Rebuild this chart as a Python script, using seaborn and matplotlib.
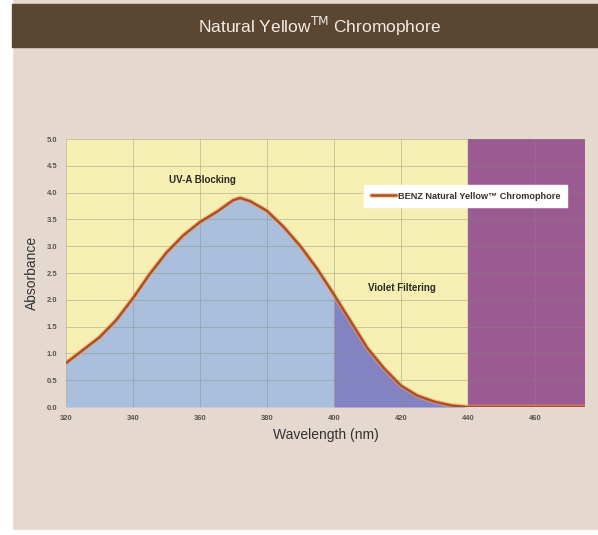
import matplotlib
matplotlib.use("Agg")
import matplotlib.pyplot as plt
import matplotlib.patheffects as pe
from matplotlib.patches import Rectangle
import seaborn as sns
import numpy as np

# absorbance curve
wavelength = [320, 325, 330, 335, 340, 345, 350, 355, 360, 365, 370, 372, 375, 380, 385,
              390, 395, 400, 405, 410, 415, 420, 425, 430, 435, 440, 450, 460, 475]
absorbance = [0.82, 1.06, 1.30, 1.62, 2.03, 2.48, 2.88, 3.20, 3.45, 3.64, 3.86, 3.90, 3.84,
              3.66, 3.36, 3.00, 2.58, 2.10, 1.60, 1.10, 0.72, 0.40, 0.21, 0.10, 0.03, 0.0,
              0.0, 0.0, 0.0]
x_ticks = [320, 340, 360, 380, 400, 420, 440, 460]
y_ticks = [0.0, 0.5, 1.0, 1.5, 2.0, 2.5, 3.0, 3.5, 4.0, 4.5, 5.0]
region_labels = ["UV-A Blocking", "Violet Filtering"]
series_name = "BENZ Natural Yellow\u2122 Chromophore"

sns.set_theme(style="white")
plt.rcParams['font.family'] = ['Liberation Sans', 'DejaVu Sans']

fig = plt.figure(figsize=(5.98, 5.35), dpi=100)
fig.patch.set_facecolor("#e4d8cf")

# white strips round the edge and the brown title bar
fig.patches.append(Rectangle((0, 0), 12 / 598, 1, transform=fig.transFigure,
                             color="white", zorder=0))
fig.patches.append(Rectangle((0, 0), 1, 5 / 535, transform=fig.transFigure,
                             color="white", zorder=0))
fig.patches.append(Rectangle((12 / 598, 1 - 47 / 535), 1, 43 / 535, transform=fig.transFigure,
                             color="#5b4632", zorder=1))
fig.text(0.535, 1 - 26 / 535, r"Natural Yellow$^{\mathrm{TM}}$ Chromophore",
         color="#f2ece4", fontsize=12.5, ha="center", va="center")

ax = fig.add_axes([66 / 598, 1 - 407 / 535, 519 / 598, 268 / 535])
ax.set_facecolor("#f6efb3")

wl = np.array(wavelength)
ab = np.array(absorbance)

ax.axvspan(440, 475, color="#9c5a92", zorder=1)
m1 = wl <= 400
ax.fill_between(wl[m1], 0, ab[m1], color="#a9bfdc", zorder=1, lw=0)
m2 = (wl >= 400) & (wl <= 440)
ax.fill_between(wl[m2], 0, ab[m2], color="#8382c2", zorder=1, lw=0)

for xt in x_ticks:
    ax.axvline(xt, color="#7f8a7a", lw=0.6, alpha=0.45, zorder=2)
for yt in y_ticks:
    ax.axhline(yt, color="#7f8a7a", lw=0.6, alpha=0.45, zorder=2)

sns.lineplot(x=wavelength, y=absorbance, ax=ax, color="#ad5029", lw=1.8, zorder=4,
             label=series_name,
             path_effects=[pe.Stroke(linewidth=3.4, foreground="#f0a468", alpha=0.6), pe.Normal()])

ax.set_xlim(320, 475)
ax.set_ylim(0, 5.0)
ax.set_xticks(x_ticks)
ax.set_yticks(y_ticks)
ax.set_xticklabels([str(t) for t in x_ticks])
ax.set_yticklabels([f"{t:.1f}" for t in y_ticks])
ax.tick_params(axis="both", length=0, labelsize=5.5, labelcolor="#5a5550", pad=6)
for lab in ax.get_xticklabels() + ax.get_yticklabels():
    lab.set_fontweight("bold")
for s in ax.spines.values():
    s.set_visible(False)

ax.set_xlabel("Wavelength (nm)", fontsize=10, color="#333333", labelpad=4)
ax.set_ylabel("Absorbance", fontsize=10, color="#333333", labelpad=6)

ax.text(360.8, 4.23, region_labels[0], fontsize=7, fontweight="bold", color="#2b2b22",
        ha="center", va="center", zorder=5)
ax.text(420.3, 2.22, region_labels[1], fontsize=7, fontweight="bold", color="#2b2b22",
        ha="center", va="center", zorder=5)

leg = ax.legend(loc="upper left", bbox_to_anchor=(0.566, 0.845), frameon=True,
                fancybox=False, framealpha=1, edgecolor="white", facecolor="white",
                prop={"size": 6.6, "weight": "bold"}, handlelength=2.7, handletextpad=0.3,
                borderpad=0.7)
for t in leg.get_texts():
    t.set_color("#3a3028")

fig.savefig("out.png", dpi=100, facecolor=fig.get_facecolor())
